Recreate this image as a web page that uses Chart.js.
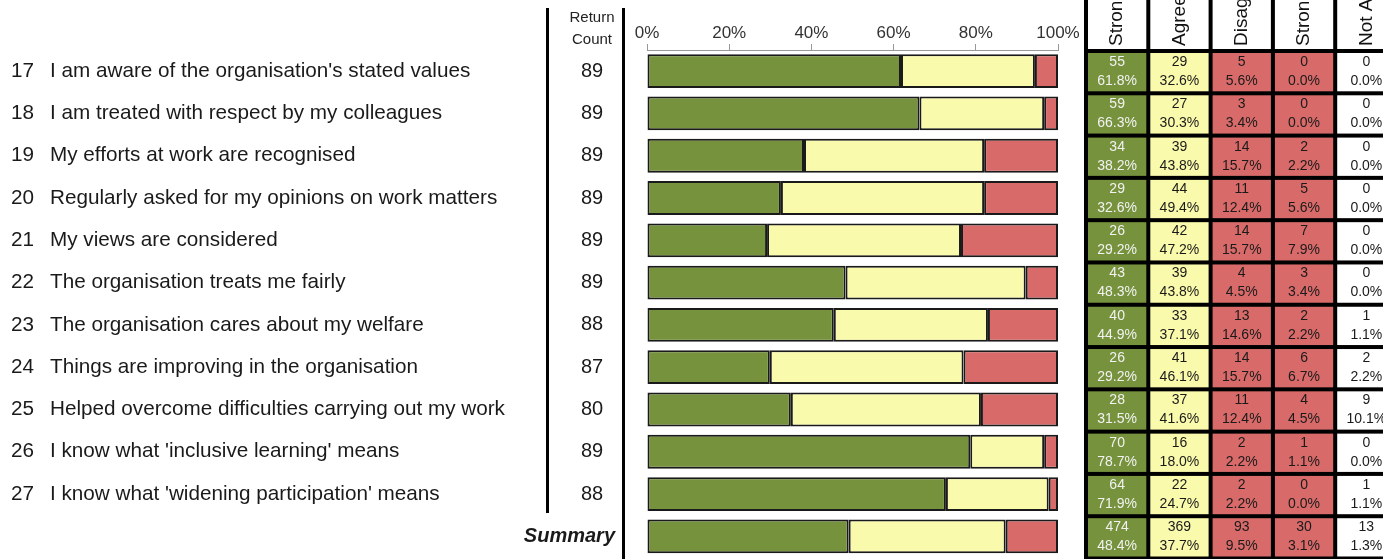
<!DOCTYPE html>
<html>
<head>
<meta charset="utf-8">
<script src="https://cdn.jsdelivr.net/npm/chart.js@4/dist/chart.umd.min.js"></script>
<style>
  body { margin: 0; background: #fff; }
  #wrap { width: 1383px; height: 559px; }
</style>
</head>
<body>
<div id="wrap"><canvas id="survey" width="1383" height="559"></canvas></div>
<script>
const qNumbers = ["17", "18", "19", "20", "21", "22", "23", "24", "25", "26", "27"];
const questions = [
  "I am aware of the organisation's stated values",
  "I am treated with respect by my colleagues",
  "My efforts at work are recognised",
  "Regularly asked for my opinions on work matters",
  "My views are considered",
  "The organisation treats me fairly",
  "The organisation cares about my welfare",
  "Things are improving in the organisation",
  "Helped overcome difficulties carrying out my work",
  "I know what 'inclusive learning' means",
  "I know what 'widening participation' means"
];
const returnCounts = [89, 89, 89, 89, 89, 89, 88, 87, 80, 89, 88];

// last entry of each list is the Summary row
const stronglyAgree    = [55, 59, 34, 29, 26, 43, 40, 26, 28, 70, 64, 474];
const agree            = [29, 27, 39, 44, 42, 39, 33, 41, 37, 16, 22, 369];
const disagree         = [5, 3, 14, 11, 14, 4, 13, 14, 11, 2, 2, 93];
const stronglyDisagree = [0, 0, 2, 5, 7, 3, 2, 6, 4, 1, 0, 30];
const notApplicable    = [0, 0, 0, 0, 0, 0, 1, 2, 9, 0, 1, 13];

const columnTitles = ["Strongly Agree", "Agree", "Disagree", "Strongly Disagree", "Not Applicable"];
const xTicks = [0, 20, 40, 60, 80, 100];

const GREEN = "#76923c", YELLOW = "#fafaad", RED = "#d86b6a";
const FONT = "'Liberation Sans', Arial, sans-serif";

const rowLabels = qNumbers.concat(["Summary"]);
const answered = returnCounts.concat([returnCounts.reduce((a, b) => a + b, 0)]);
const pct = (arr) => arr.map((v, i) => v / answered[i] * 100);
const redCounts = disagree.map((v, i) => v + stronglyDisagree[i]);

const tablePlugin = {
  id: "tablePlugin",
  beforeDraw(chart) {
    const ctx = chart.ctx;
    ctx.save();
    ctx.fillStyle = "#fff";
    ctx.fillRect(0, 0, chart.width, chart.height);
    ctx.restore();
  },
  afterDraw(chart) {
    const ctx = chart.ctx;
    const ys = chart.scales.y;
    const rowH = (ys.bottom - ys.top) / rowLabels.length;
    ctx.save();
    ctx.textBaseline = "middle";

    // question labels
    ctx.fillStyle = "#1a1a1a";
    questions.forEach((q, i) => {
      const y = ys.getPixelForValue(i);
      ctx.font = "20.7px " + FONT;
      ctx.textAlign = "left";
      ctx.fillText(qNumbers[i], 11, y);
      ctx.fillText(q, 50, y);
      ctx.font = "20px " + FONT;
      ctx.textAlign = "center";
      ctx.fillText(String(returnCounts[i]), 592, y);
    });
    ctx.font = "bold italic 20px " + FONT;
    ctx.textAlign = "right";
    ctx.fillText("Summary", 615, ys.getPixelForValue(rowLabels.length - 1));

    ctx.font = "15px " + FONT;
    ctx.textAlign = "center";
    ctx.fillStyle = "#222";
    ctx.fillText("Return", 592, 18);
    ctx.fillText("Count", 592, 40);

    ctx.fillStyle = "#000";
    ctx.fillRect(546, 8, 3, 505);
    ctx.fillRect(622, 8, 3, 551);

    // right-hand count table
    const x0 = 1086, colW = 62.3, top = ys.top + 1;
    const cols = [stronglyAgree, agree, disagree, stronglyDisagree, notApplicable];
    const fills = [GREEN, YELLOW, RED, RED, "#fff"];
    for (let i = 0; i < rowLabels.length; i++) {
      const total = cols.reduce((s, c) => s + c[i], 0);
      const cy = top + (i + 0.5) * rowH;
      cols.forEach((c, j) => {
        const cx = x0 + j * colW;
        ctx.fillStyle = fills[j];
        ctx.fillRect(cx, top + i * rowH, colW, rowH);
        ctx.fillStyle = j === 0 ? "#f2f2f2" : "#1a1a1a";
        ctx.font = "14px " + FONT;
        ctx.textAlign = "center";
        ctx.fillText(String(c[i]), cx + colW / 2, cy - 10);
        ctx.fillText((c[i] / total * 100).toFixed(1) + "%", cx + colW / 2, cy + 9);
      });
    }
    // rotated column titles (clipped at the top of the page)
    columnTitles.forEach((t, j) => {
      const cx = x0 + j * colW;
      ctx.save();
      ctx.beginPath();
      ctx.rect(cx, 0, colW, top);
      ctx.clip();
      ctx.translate(cx + colW / 2, top - 5);
      ctx.rotate(-Math.PI / 2);
      ctx.fillStyle = "#111";
      ctx.font = "19px " + FONT;
      ctx.textAlign = "left";
      ctx.fillText(t, 0, 0);
      ctx.restore();
    });
    // grid lines
    ctx.fillStyle = "#000";
    for (let j = 0; j <= columnTitles.length; j++) {
      ctx.fillRect(x0 + j * colW - 2, 0, 4, chart.height);
    }
    for (let i = 0; i <= rowLabels.length; i++) {
      ctx.fillRect(x0 - 2, top + i * rowH - 2, chart.width - x0 + 2, 4);
    }
    ctx.restore();
  }
};

const barStyle = { borderColor: "#1a1a1a", borderWidth: 2, borderSkipped: false };

new Chart(document.getElementById("survey"), {
  type: "bar",
  data: {
    labels: rowLabels,
    datasets: [
      { label: columnTitles[0], data: pct(stronglyAgree), backgroundColor: GREEN, ...barStyle },
      { label: columnTitles[1], data: pct(agree), backgroundColor: YELLOW, ...barStyle },
      { label: "Disagree", data: pct(redCounts), backgroundColor: RED, ...barStyle }
    ]
  },
  options: {
    indexAxis: "y",
    responsive: false,
    animation: false,
    devicePixelRatio: 1,
    layout: { padding: { left: 647, right: 325, top: 0, bottom: 1.5 } },
    datasets: { bar: { barPercentage: 0.8, categoryPercentage: 1 } },
    plugins: { legend: { display: false }, tooltip: { enabled: false } },
    scales: {
      x: {
        position: "top",
        stacked: true,
        min: 0,
        max: 100,
        afterFit: (s) => { s.height = 50; },
        afterBuildTicks: (s) => { s.ticks = xTicks.map((v) => ({ value: v })); },
        ticks: {
          callback: (v) => v + "%",
          color: "#333",
          font: { family: FONT, size: 17 },
          padding: 0,
          maxRotation: 0
        },
        grid: { drawOnChartArea: false, drawTicks: true, tickLength: 6, color: "#999" },
        border: { display: true, color: "#999" }
      },
      y: { stacked: true, display: false }
    }
  },
  plugins: [tablePlugin]
});
</script>
</body>
</html>
